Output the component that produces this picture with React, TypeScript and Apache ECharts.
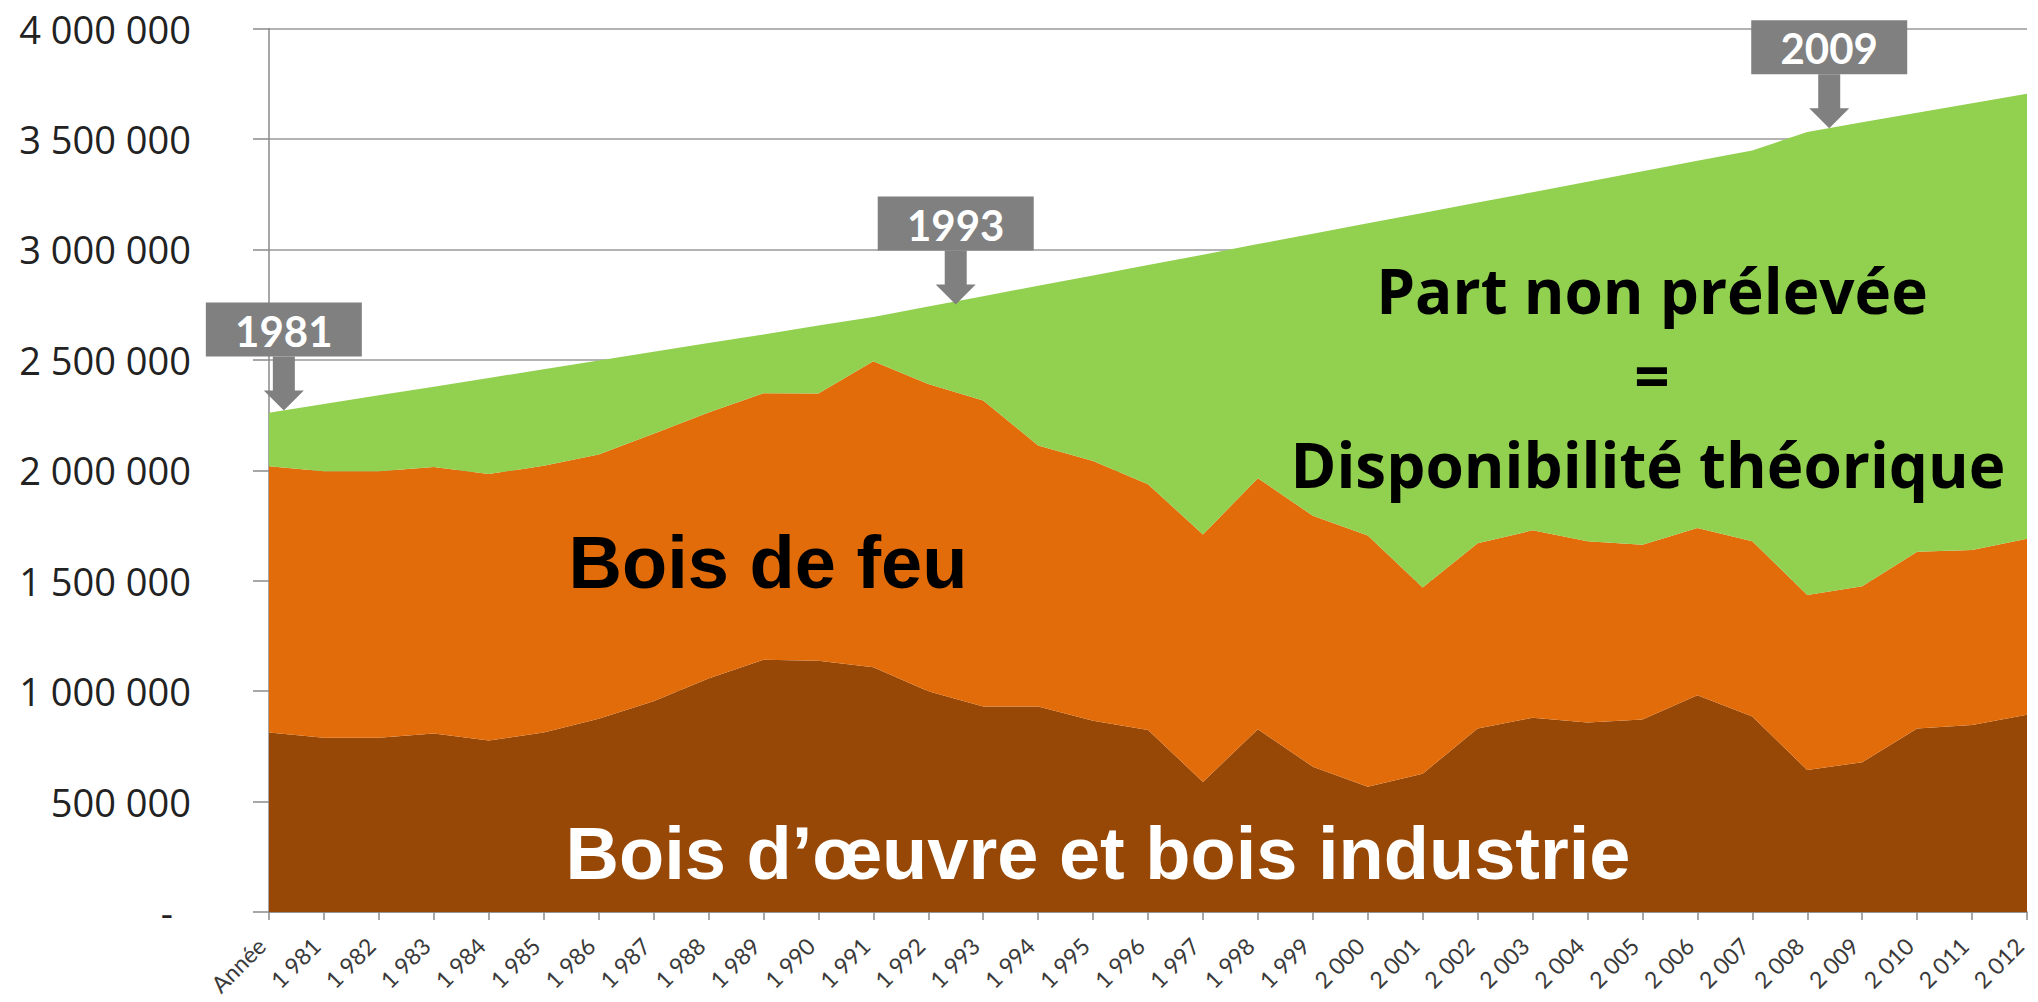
import React, { useEffect, useRef } from 'react';
import * as echarts from 'echarts';

const categories = [
  'Année', '1 981', '1 982', '1 983', '1 984', '1 985', '1 986', '1 987', '1 988', '1 989', '1 990',
  '1 991', '1 992', '1 993', '1 994', '1 995', '1 996', '1 997', '1 998', '1 999', '2 000',
  '2 001', '2 002', '2 003', '2 004', '2 005', '2 006', '2 007', '2 008', '2 009', '2 010',
  '2 011', '2 012',
];

// Bois d'œuvre et bois industrie (bottom layer)
const boisOeuvre = [
  813000, 789000, 789000, 808000, 776000, 813000, 875000, 954000, 1057000, 1142000, 1138000,
  1108000, 999000, 930000, 930000, 866000, 824000, 589000, 827000, 658000, 567000,
  626000, 831000, 879000, 858000, 871000, 981000, 885000, 643000, 678000, 831000,
  847000, 893000,
];

// Bois de feu (middle layer)
const boisFeu = [
  1205000, 1207000, 1207000, 1207000, 1207000, 1207000, 1196000, 1211000, 1205000, 1207000, 1209000,
  1386000, 1391000, 1386000, 1182000, 1176000, 1113000, 1120000, 1137000, 1136000, 1138000,
  843000, 838000, 849000, 821000, 792000, 757000, 794000, 792000, 797000, 800000,
  792000, 797000,
];

// Part non prélevée = disponibilité théorique (top layer)
const partNonPrelevee = [
  242000, 304000, 343000, 363000, 435000, 437000, 426000, 371000, 314000, 266000, 308000,
  200000, 351000, 472000, 723000, 840000, 992000, 1267000, 1060000, 1277000, 1413000,
  1696000, 1543000, 1531000, 1627000, 1691000, 1663000, 1769000, 2096000, 2100000, 1987000,
  2023000, 2015000,
];

const yMin = 0;
const yMax = 4000000;
const yInterval = 500000;

const annotations = [
  { label: '1981', index: 0.27, value: 2270000 },
  { label: '1993', index: 12.5, value: 2750000 },
  { label: '2009', index: 28.4, value: 3548000 },
];

const COLORS = {
  oeuvre: '#974806',
  feu: '#E36C0A',
  part: '#92D050',
  box: '#808080',
};

function fmt(v: number): string {
  if (v === 0) return '{z|-}';
  return String(v).replace(/\B(?=(\d{3})+(?!\d))/g, ' ');
}

export default function App() {
  const ref = useRef<HTMLDivElement>(null);

  useEffect(() => {
    if (!ref.current) return;
    const chart = echarts.init(ref.current, undefined, { renderer: 'svg' });

    const areaSeries = (name: string, data: number[], color: string) => ({
      name,
      type: 'line',
      stack: 'total',
      data,
      symbol: 'none',
      silent: true,
      lineStyle: { width: 0 },
      areaStyle: { color, opacity: 1 },
      itemStyle: { color },
    });

    chart.setOption({
      animation: false,
      backgroundColor: '#ffffff',
      grid: {
        left: 269,
        right: 11,
        top: 28.5,
        bottom: 90,
        containLabel: false,
        outerBoundsMode: 'none',
      },
      xAxis: {
        type: 'category',
        data: categories,
        boundaryGap: false,
        axisLine: { show: true, lineStyle: { color: '#8a8a8a', width: 1.5 } },
        axisTick: { show: true, length: 8, lineStyle: { color: '#8a8a8a', width: 1.5 } },
        axisLabel: {
          rotate: 45,
          interval: 0,
          margin: 22,
          padding: [0, 11, 0, 0],
          fontFamily: 'Lato',
          fontSize: 23,
          color: '#3a3a3a',
        },
        splitLine: { show: false },
      },
      yAxis: {
        type: 'value',
        min: yMin,
        max: yMax,
        interval: yInterval,
        axisLine: { show: true, lineStyle: { color: '#8a8a8a', width: 1.5 } },
        axisTick: { show: true, length: 16, lineStyle: { color: '#8a8a8a', width: 1.5 } },
        axisLabel: {
          margin: 78,
          fontFamily: '"Open Sans"',
          fontSize: 38,
          color: '#222222',
          formatter: fmt,
          rich: {
            z: { fontFamily: '"Open Sans"', fontSize: 38, color: '#222222', padding: [0, 18, 0, 0] },
          },
        },
        splitLine: { show: true, lineStyle: { color: '#9a9a9a', width: 1.5 } },
      },
      series: [
        areaSeries("Bois d'œuvre et bois industrie", boisOeuvre, COLORS.oeuvre),
        areaSeries('Bois de feu', boisFeu, COLORS.feu),
        areaSeries('Part non prélevée', partNonPrelevee, COLORS.part),
      ],
    });

    const xPix = (idx: number) => {
      const f = Math.floor(idx);
      const c = Math.min(Math.ceil(idx), categories.length - 1);
      const pf = chart.convertToPixel({ xAxisIndex: 0 }, f) as number;
      const pc = chart.convertToPixel({ xAxisIndex: 0 }, c) as number;
      return pf + (pc - pf) * (idx - f);
    };
    const yPix = (v: number) => chart.convertToPixel({ yAxisIndex: 0 }, v) as number;

    const graphics: any[] = [];
    annotations.forEach((a) => {
      const tx = xPix(a.index);
      const ty = yPix(a.value);
      const boxW = 156;
      const boxH = 54;
      const boxBottom = ty - 54;
      const boxTop = boxBottom - boxH;
      graphics.push({
        type: 'rect',
        shape: { x: tx - boxW / 2, y: boxTop, width: boxW, height: boxH },
        style: { fill: COLORS.box },
        z: 100,
      });
      graphics.push({
        type: 'text',
        x: tx,
        y: boxTop + boxH / 2 + 1,
        style: {
          text: a.label,
          fill: '#ffffff',
          font: 'bold 42px Lato',
          align: 'center',
          verticalAlign: 'middle',
          textAlign: 'center',
          textVerticalAlign: 'middle',
        },
        z: 101,
      });
      graphics.push({
        type: 'polygon',
        shape: {
          points: [
            [tx - 11, boxBottom],
            [tx + 11, boxBottom],
            [tx + 11, ty - 20],
            [tx + 20, ty - 20],
            [tx, ty],
            [tx - 20, ty - 20],
            [tx - 11, ty - 20],
          ],
        },
        style: { fill: COLORS.box },
        z: 100,
      });
    });

    const txt = (text: string, x: number, y: number, font: string, fill: string) => ({
      type: 'text',
      x,
      y,
      style: {
        text,
        fill,
        font,
        align: 'center',
        verticalAlign: 'middle',
        textAlign: 'center',
        textVerticalAlign: 'middle',
      },
      z: 90,
    });

    graphics.push(txt('Bois de feu', 768, 562, 'bold 74px "Liberation Sans", Arial', '#000000'));
    graphics.push(txt('Bois d\u2019œuvre et bois industrie', 1098, 853, 'bold 74px "Liberation Sans", Arial', '#ffffff'));
    graphics.push(txt('Part non prélevée', 1652, 290, 'bold 62px "Open Sans"', '#000000'));
    graphics.push(txt('=', 1652, 375, 'bold 62px "Open Sans"', '#000000'));
    graphics.push(txt('Disponibilité théorique', 1648, 464, 'bold 62px "Open Sans"', '#000000'));

    chart.setOption({ graphic: graphics });

    return () => {
      chart.dispose();
    };
  }, []);

  return (
    <div
      ref={ref}
      style={{ position: 'absolute', left: 0, top: 0, width: 2038, height: 1002, background: '#fff' }}
    />
  );
}
